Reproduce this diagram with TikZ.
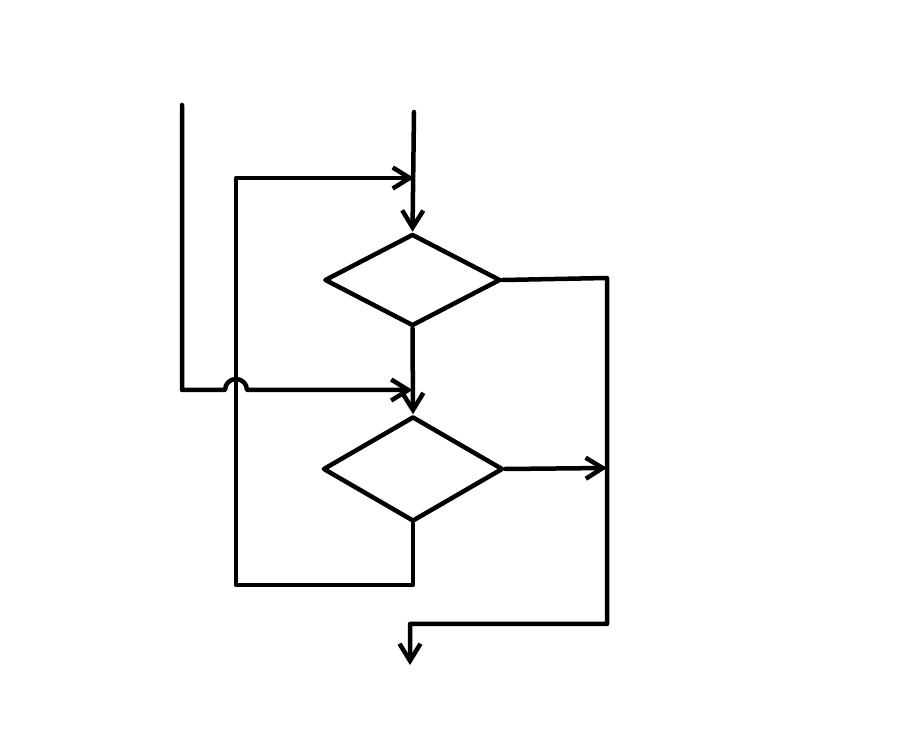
\documentclass[tikz,border=0pt]{standalone}
\usetikzlibrary{arrows.meta, shapes.geometric}

\begin{document}
\begin{tikzpicture}[
  x=0.2mm, y=-0.2mm,
  every path/.style={line width=0.9mm, line cap=round, line join=round},
  dec/.style={draw, diamond, inner sep=0pt},
  arr/.style={-{Straight Barb[length=3.4mm, width=4.2mm]}}
]
  \useasboundingbox (0,0) rectangle (897,739);

  % --- Decisions ---
  \node[dec, minimum width=35.2mm, minimum height=18.4mm] (d1) at (412.5,280) {};
  \node[dec, minimum width=36mm, minimum height=21mm]     (d2) at (413,469) {};

  % --- Free ends and joins ---
  \coordinate (inA)  at (414,112);
  \coordinate (inB)  at (182,105);
  \coordinate (j1)   at (414,178);
  \coordinate (j2)   at (412.5,390);
  \coordinate (j3)   at (607,468);
  \coordinate (out)  at (410,665);

  % --- Arrows ---
  \draw[arr] (inA) -- (d1.north);
  \draw[arr] (d1.south) -- (d2.north);
  \draw[arr] (d2.east) -- (j3);

  % second input hops over the loop line
  \draw[arr] (inB) -- (182,390) -- (225,390)
       arc[start angle=180, end angle=0, radius=2.2mm] -- (j2);

  % loop back from the lower decision
  \draw[arr] (d2.south) -- (d2.south |- 0,585) -- (236,585) -- (236,178) -- (j1);

  % exit
  \draw[arr] (d1.east) -- (607,278) -- (607,624) -- (out |- 0,624) -- (out);

\end{tikzpicture}
\end{document}
